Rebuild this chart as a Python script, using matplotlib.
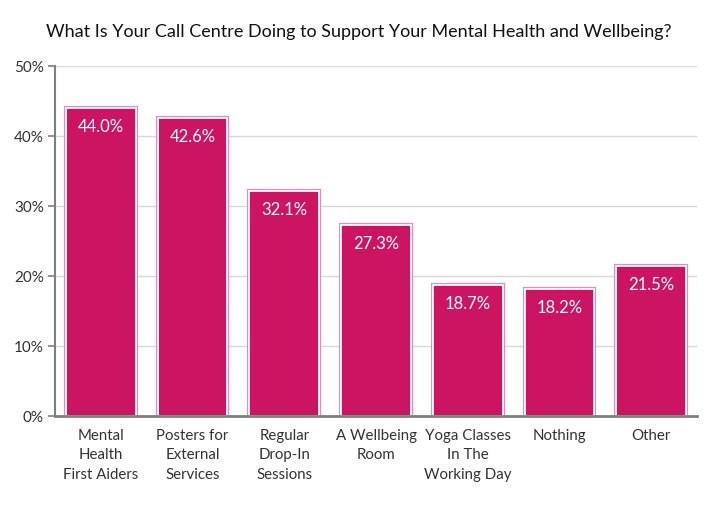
import matplotlib

matplotlib.use("Agg")

import matplotlib.pyplot as plt
from matplotlib.ticker import FuncFormatter, MultipleLocator

# data
categories = [
    "Mental\nHealth\nFirst Aiders",
    "Posters for\nExternal\nServices",
    "Regular\nDrop-In\nSessions",
    "A Wellbeing\nRoom",
    "Yoga Classes\nIn The\nWorking Day",
    "Nothing",
    "Other",
]
values = [44.0, 42.6, 32.1, 27.3, 18.7, 18.2, 21.5]

FILL = "#cb1563"
RIM = "#e68db3"
GREY = "#808080"

plt.rcParams["font.family"] = ["Lato", "DejaVu Sans"]

fig = plt.figure(figsize=(7.18, 5.1), dpi=100)
ax = fig.add_axes([55 / 718, 1 - 417 / 510, 642 / 718, 350 / 510])

x = range(len(values))
w = 0.76
# pink rim, white gap, then the fill
ax.bar(x, values, width=w, color=FILL, edgecolor=RIM, linewidth=3.0, zorder=2)
ax.bar(x, values, width=w, color=FILL, edgecolor="white", linewidth=1.3, zorder=3)

for i, v in zip(x, values):
    ax.annotate(f"{v:.1f}%", (i, v), xytext=(0, -13), textcoords="offset points",
                ha="center", va="center", color="white", fontsize=12, zorder=4)

ax.set_xlim(-0.5, len(values) - 0.5)
ax.set_ylim(0, 50)
ax.yaxis.set_major_locator(MultipleLocator(10))
ax.yaxis.set_major_formatter(FuncFormatter(lambda v, _: f"{v:.0f}%"))
ax.grid(axis="y", color="#d9d9d9", linewidth=1, zorder=0)
ax.set_axisbelow(True)

ax.set_xticks(list(x))
ax.set_xticklabels(categories, fontsize=10.8, color="#333333", linespacing=1.5)
ax.tick_params(axis="x", length=0, pad=8.5)
ax.tick_params(axis="y", length=5, width=1.2, color=GREY, labelsize=11,
               labelcolor="#333333", pad=3)

for s in ("top", "right"):
    ax.spines[s].set_visible(False)
ax.spines["left"].set_color(GREY)
ax.spines["left"].set_linewidth(1.5)
ax.spines["bottom"].set_color(GREY)
ax.spines["bottom"].set_linewidth(2)
ax.spines["bottom"].set_zorder(5)

fig.text(0.5, 1 - 32 / 510, "What Is Your Call Centre Doing to Support Your Mental Health and Wellbeing?",
         ha="center", va="center", fontsize=13, color="#111111")

fig.savefig("out.png", dpi=100, facecolor="white")
